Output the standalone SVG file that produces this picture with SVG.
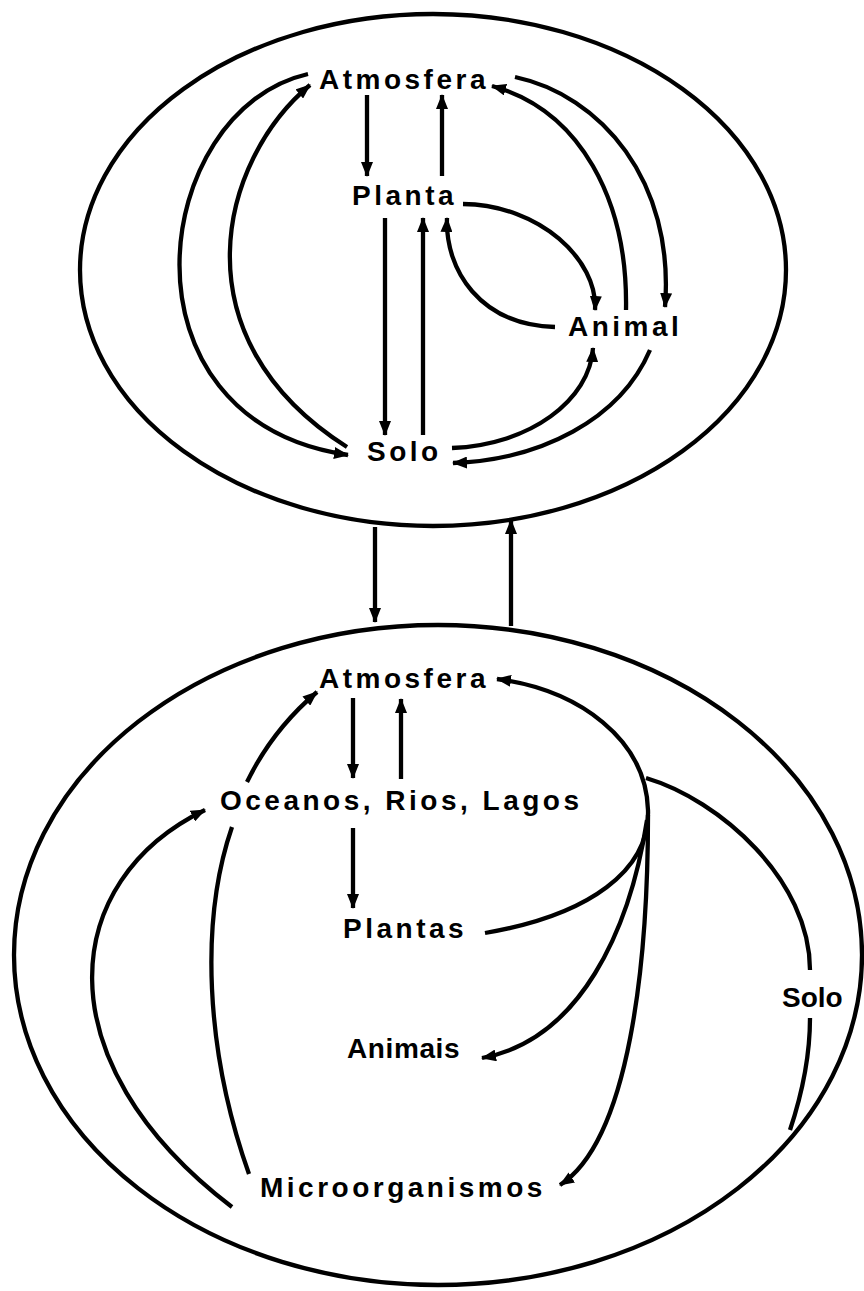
<svg xmlns="http://www.w3.org/2000/svg" width="864" height="1291" viewBox="0 0 864 1291">
<style>
.t{font-family:"Liberation Sans",Arial,sans-serif;font-weight:bold;font-size:28px;fill:#000;letter-spacing:3.5px}
.n{letter-spacing:0.6px}
.c{fill:none;stroke:#000;stroke-width:4.3}
.o{fill:none;stroke:#000;stroke-width:4.3}
</style>
<defs>
<marker id="a" markerUnits="userSpaceOnUse" markerWidth="15" markerHeight="12" refX="14" refY="6" orient="auto">
<path d="M0,0 L15,6 L0,12 z" fill="#000"/>
</marker>
</defs>
<rect width="864" height="1291" fill="#fff"/>
<g id="ellipse-top"><ellipse class="o" cx="433" cy="270" rx="353" ry="256"/></g>
<g id="ellipse-bottom"><ellipse class="o" cx="438" cy="955" rx="424" ry="330"/></g>
<g id="connectors">
<path class="c" marker-end="url(#a)" d="M367,95 L367,176"/>
<path class="c" marker-end="url(#a)" d="M442,176 L442,95"/>
<path class="c" marker-end="url(#a)" d="M385,218 L385,435"/>
<path class="c" marker-end="url(#a)" d="M423,435 L423,218"/>
<path class="c" marker-end="url(#a)" d="M463,204 C540,205 598,260 595,310"/>
<path class="c" marker-end="url(#a)" d="M555,327 C480,325 445,270 447,218"/>
<path class="c" marker-end="url(#a)" d="M626,310 C628,200 580,110 492,86"/>
<path class="c" marker-end="url(#a)" d="M515,77 C600,95 675,180 665,307"/>
<path class="c" marker-end="url(#a)" d="M308,74 C150,110 110,420 348,455"/>
<path class="c" marker-end="url(#a)" d="M347,447 C174,337 220,160 310,85"/>
<path class="c" marker-end="url(#a)" d="M452,448 C530,445 590,400 593,348"/>
<path class="c" marker-end="url(#a)" d="M650,350 C620,420 540,460 453,463"/>
<path class="c" marker-end="url(#a)" d="M375,527 L375,622"/>
<path class="c" marker-end="url(#a)" d="M511,626 L511,520"/>
<path class="c" marker-end="url(#a)" d="M353,698 L353,778"/>
<path class="c" marker-end="url(#a)" d="M401,779 L401,699"/>
<path class="c" marker-end="url(#a)" d="M353,828 L353,908"/>
<path class="c" marker-end="url(#a)" d="M485,933 C590,915 650,870 648,810 C646,740 580,690 497,679"/>
<path class="c" d="M646,778 C720,800 810,880 810,970"/>
<path class="c" d="M810,1018 C810,1060 800,1100 790,1130"/>
<path class="c" marker-end="url(#a)" d="M647,820 C630,930 580,1040 482,1058"/>
<path class="c" marker-end="url(#a)" d="M648,815 C648,960 630,1140 560,1185"/>
<path class="c" d="M249,1174 C205,1050 200,920 232,827"/>
<path class="c" marker-end="url(#a)" d="M247,782 C265,745 290,715 317,692"/>
<path class="c" marker-end="url(#a)" d="M232,1207 C40,1060 60,880 205,810"/>
</g>
<g id="n-atm1"><text class="t" x="319" y="89">Atmosfera</text></g>
<g id="n-planta"><text class="t" x="352" y="205">Planta</text></g>
<g id="n-animal"><text class="t" x="568" y="336">Animal</text></g>
<g id="n-solo1"><text class="t" x="367" y="461">Solo</text></g>
<g id="n-atm2"><text class="t" x="319" y="688">Atmosfera</text></g>
<g id="n-oceanos"><text class="t" x="220" y="810">Oceanos, Rios, Lagos</text></g>
<g id="n-plantas"><text class="t" x="343" y="938">Plantas</text></g>
<g id="n-animais"><text class="t n" x="347" y="1058">Animais</text></g>
<g id="n-micro"><text class="t" x="260" y="1197">Microorganismos</text></g>
<g id="n-solo2"><text class="t n" x="782" y="1007" style="letter-spacing:0">Solo</text></g>
</svg>
